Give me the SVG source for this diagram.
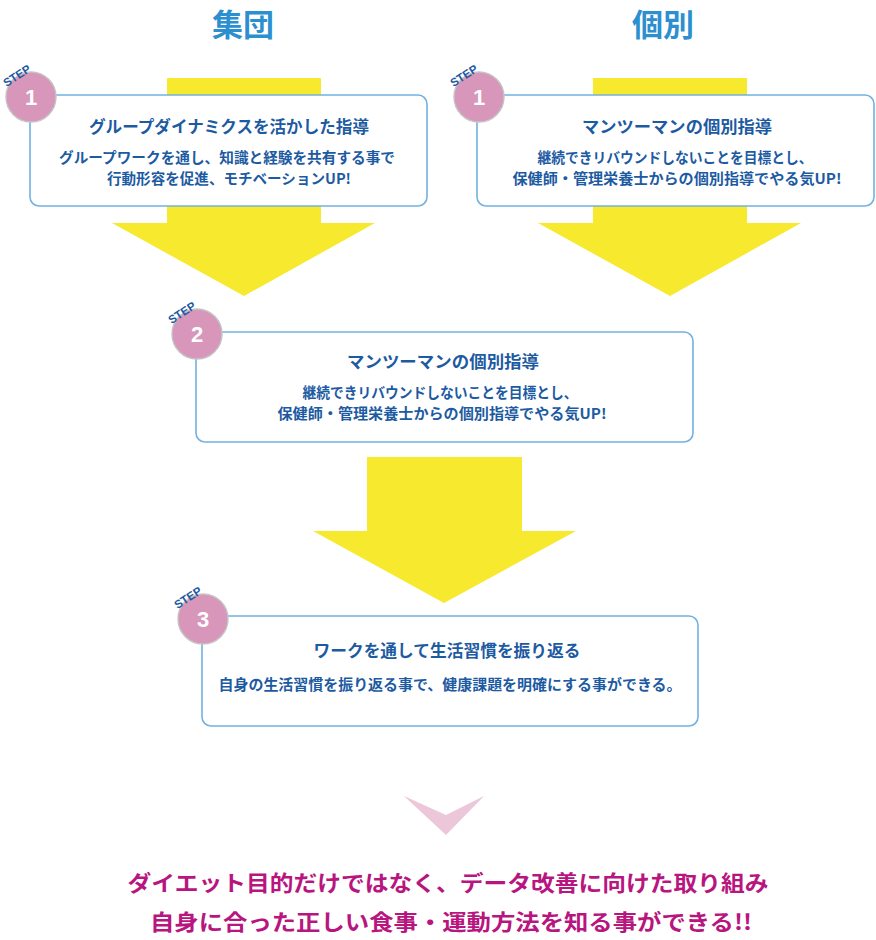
<svg xmlns="http://www.w3.org/2000/svg" width="876" height="940" viewBox="0 0 876 940">
<style>
.arrow{fill:#f7e92e}
.box{fill:#ffffff;stroke:#72b1e0;stroke-width:1.6}
.circ{fill:#d896ba;stroke:#c4c4c4;stroke-width:1.4}
.num{font-family:"Liberation Sans","Noto Sans",sans-serif;font-weight:700;font-size:22px;fill:#ffffff;text-anchor:middle}
.step{font-family:"Liberation Sans","Noto Sans",sans-serif;font-weight:700;font-size:11.5px;fill:#1c5aa2;text-anchor:middle}
.title{font-family:"Noto Sans CJK JP",sans-serif;font-weight:700;font-size:16.5px;fill:#1c5aa2;text-anchor:middle}
.body{font-family:"Noto Sans CJK JP",sans-serif;font-weight:700;font-size:14.3px;fill:#1c5aa2;text-anchor:middle}
.head{font-family:"Noto Sans CJK JP",sans-serif;font-weight:700;font-size:31px;fill:#2b8fd0;text-anchor:middle}
.concl{font-family:"Noto Sans CJK JP",sans-serif;font-weight:700;font-size:21.5px;fill:#b8157f;text-anchor:middle}
</style>

<g id="connectors">
  <path class="arrow" d="M167,78 H321 V223 H375 L244,296 L112,223 H167 Z"/>
  <path class="arrow" d="M593,78 H747 V223 H801 L670,296 L538,223 H593 Z"/>
  <path class="arrow" d="M367,457 H522 V531 H576 L444,603 L313,531 H367 Z"/>
  <path fill="#ecc6d9" d="M404,796 L446,815 L484,796 L446,835 Z"/>
</g>

<text id="head-group" class="head" x="243" y="36">集団</text>
<text id="head-individual" class="head" x="663" y="36">個別</text>

<g id="step1-group">
  <rect class="box" x="30" y="95" width="397" height="111" rx="9"/>
  <circle class="circ" cx="31" cy="97" r="25"/>
  <text class="num" x="31" y="105">1</text>
  <text class="step" transform="translate(19,79) rotate(-33)">STEP</text>
  <text class="title" x="229" y="133" textLength="280" lengthAdjust="spacingAndGlyphs">グループダイナミクスを活かした指導</text>
  <text class="body" x="227" y="163" textLength="336" lengthAdjust="spacingAndGlyphs">グループワークを通し、知識と経験を共有する事で</text>
  <text class="body" x="229" y="184" textLength="244" lengthAdjust="spacingAndGlyphs">行動形容を促進、モチベーションUP!</text>
</g>

<g id="step1-individual">
  <rect class="box" x="477" y="95" width="397" height="111" rx="9"/>
  <circle class="circ" cx="479" cy="97" r="25"/>
  <text class="num" x="479" y="105">1</text>
  <text class="step" transform="translate(466,79) rotate(-33)">STEP</text>
  <text class="title" x="677" y="133" textLength="190" lengthAdjust="spacingAndGlyphs">マンツーマンの個別指導</text>
  <text class="body" x="675" y="163" textLength="275" lengthAdjust="spacingAndGlyphs">継続できリバウンドしないことを目標とし、</text>
  <text class="body" x="677" y="184" textLength="329" lengthAdjust="spacingAndGlyphs">保健師・管理栄養士からの個別指導でやる気UP!</text>
</g>

<g id="step2">
  <rect class="box" x="196" y="332" width="497" height="110" rx="9"/>
  <circle class="circ" cx="197" cy="334" r="25"/>
  <text class="num" x="197" y="342">2</text>
  <text class="step" transform="translate(184,316) rotate(-33)">STEP</text>
  <text class="title" x="443" y="368" textLength="192" lengthAdjust="spacingAndGlyphs">マンツーマンの個別指導</text>
  <text class="body" x="440" y="398" textLength="275" lengthAdjust="spacingAndGlyphs">継続できリバウンドしないことを目標とし、</text>
  <text class="body" x="442" y="419" textLength="329" lengthAdjust="spacingAndGlyphs">保健師・管理栄養士からの個別指導でやる気UP!</text>
</g>

<g id="step3">
  <rect class="box" x="202" y="616" width="496" height="110" rx="9"/>
  <circle class="circ" cx="203" cy="619" r="25"/>
  <text class="num" x="203" y="627">3</text>
  <text class="step" transform="translate(190,601) rotate(-33)">STEP</text>
  <text class="title" x="447" y="657" textLength="267" lengthAdjust="spacingAndGlyphs">ワークを通して生活習慣を振り返る</text>
  <text class="body" x="450" y="690" textLength="463" lengthAdjust="spacingAndGlyphs">自身の生活習慣を振り返る事で、健康課題を明確にする事ができる。</text>
</g>

<g id="conclusion">
  <text class="concl" x="448" y="891" textLength="641" lengthAdjust="spacingAndGlyphs">ダイエット目的だけではなく、データ改善に向けた取り組み</text>
  <text class="concl" x="451" y="930" textLength="602" lengthAdjust="spacingAndGlyphs">自身に合った正しい食事・運動方法を知る事ができる!!</text>
</g>
</svg>
